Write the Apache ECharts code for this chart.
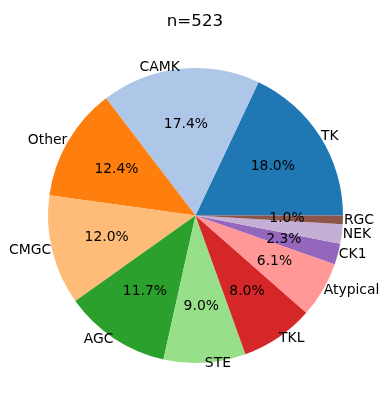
<!DOCTYPE html>
<html><head><meta charset="utf-8">
<script src="https://cdn.jsdelivr.net/npm/echarts@6/dist/echarts.min.js"></script>
<style>html,body{margin:0;padding:0;background:#fff}#c{width:390px;height:411px}</style>
</head><body><div id="c"></div>
<script>
const title = 'n=523';
const categories = ['TK','CAMK','Other','CMGC','AGC','STE','TKL','Atypical','CK1','NEK','RGC'];
const counts = [94,91,65,63,61,47,42,32,12,11,5];
const colors = ['#1f77b4','#aec7e8','#ff7f0e','#ffbb78','#2ca02c','#98df8a','#d62728','#ff9896','#9467bd','#c5b0d5','#8c564b'];

const R = 147.5;
const center = [195.5, 215.5];
const font = 'DejaVu Sans';
const total = counts.reduce((a,b)=>a+b,0);
const data = categories.map((n,i)=>({name:n, value:counts[i], itemStyle:{color:colors[i]}}));

const chart = echarts.init(document.getElementById('c'), null, {renderer:'canvas'});
chart.setOption({
  animation:false,
  title:{text:title, left:'center', top:8, textStyle:{fontFamily:font, fontSize:16.7, fontWeight:'normal', color:'#000'}},
  series:[
    {
      type:'pie', center:center, radius:[0,R], startAngle:0, clockwise:false,
      avoidLabelOverlap:false, silent:true,
      data:data,
      label:{show:true, position:'outside', fontFamily:font, fontSize:13.9, color:'#000', distanceToLabelLine:0, formatter:'{b}'},
      labelLine:{show:false, length:1, length2:0},
      itemStyle:{borderWidth:0}
    },
    {
      type:'pie', center:center, radius:[0,R*1.2], startAngle:0, clockwise:false,
      avoidLabelOverlap:false, silent:true,
      data:data.map(d=>({name:d.name, value:d.value, itemStyle:{color:'rgba(0,0,0,0)'}})),
      label:{show:true, position:'inside', fontFamily:font, fontSize:13.9, color:'#000',
        formatter:p=>(p.value/total*100).toFixed(1)+'%'},
      labelLine:{show:false},
      itemStyle:{borderWidth:0}
    }
  ]
});
</script></body></html>
